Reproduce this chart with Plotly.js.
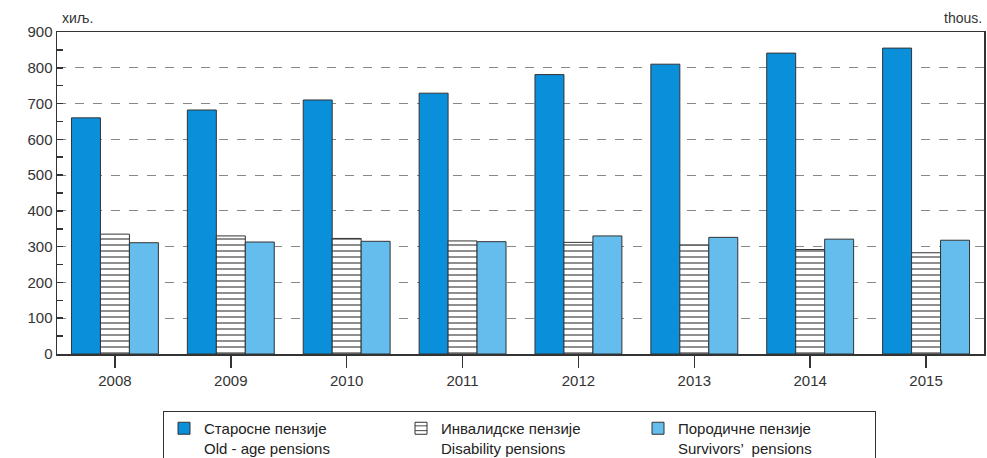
<!DOCTYPE html>
<html>
<head>
<meta charset="utf-8">
<script src="https://cdn.plot.ly/plotly-3.0.1.min.js"></script>
<style>html,body{margin:0;padding:0;background:#fff;}#chart{width:987px;height:458px;}</style>
</head>
<body>
<div id="chart"></div>
<script>
const years = ['2008','2009','2010','2011','2012','2013','2014','2015'];
const oldAge = [660, 682, 710, 729, 781, 810, 841, 855];
const disability = [335, 330, 323, 316, 312, 305, 292, 283];
const survivors = [311, 313, 315, 314, 330, 326, 321, 318];
const names = ['Старосне пензије<br>Old - age pensions', 'Инвалидске пензије<br>Disability pensions', 'Породичне пензије<br>Survivors\u2019  pensions'];
const yTicks = [0, 100, 200, 300, 400, 500, 600, 700, 800, 900];

const lineStyle = {color: '#333', width: 1};
const traces = [
  {type: 'bar', x: years, y: oldAge, name: names[0], marker: {color: '#0a90db', line: lineStyle}},
  {type: 'bar', x: years, y: disability, name: names[1], marker: {color: '#ffffff', line: lineStyle, pattern: {shape: '-', fgcolor: '#444', bgcolor: '#ffffff', size: 6, solidity: 0.2}}},
  {type: 'bar', x: years, y: survivors, name: names[2], marker: {color: '#64bdec', line: lineStyle}}
];

const layout = {
  width: 987, height: 458,
  margin: {l: 57, r: 3, t: 32, b: 104, autoexpand: false},
  paper_bgcolor: '#fff', plot_bgcolor: '#fff',
  font: {family: 'Liberation Sans, Arial, sans-serif', size: 15, color: '#333'},
  barmode: 'group', bargap: 0.25, bargroupgap: 0,
  showlegend: true,
  xaxis: {
    type: 'category', showline: true, mirror: true, linecolor: '#333', linewidth: 1.5,
    ticks: 'outside', ticklen: 12, tickcolor: '#333', tickwidth: 1.5,
    showgrid: false, tickfont: {size: 15}
  },
  yaxis: {
    range: [0, 900], tickvals: yTicks, showline: true, mirror: true, linecolor: '#333', linewidth: 1.5,
    ticks: 'inside', ticklen: 6, tickcolor: '#333', tickwidth: 1.5,
    showgrid: true, gridcolor: '#888', griddash: 'dash', gridwidth: 1,
    zeroline: false, tickfont: {size: 15},
    minor: {dtick: 50, ticks: 'inside', ticklen: 6, tickcolor: '#333', showgrid: false}
  },
  legend: {
    orientation: 'h', x: (163 - 57) / 927, xanchor: 'left', y: -57 / 322, yanchor: 'top',
    bordercolor: '#333', borderwidth: 1, bgcolor: '#fff',
    entrywidth: 192, entrywidthmode: 'pixels', valign: 'top',
    font: {size: 15, color: '#222'}, traceorder: 'normal'
  },
  annotations: [
    {text: 'хиљ.', xref: 'paper', yref: 'paper', x: 0, y: 1, xanchor: 'left', yanchor: 'bottom', yshift: 4, xshift: 3, showarrow: false, font: {size: 14, color: '#333'}},
    {text: 'thous.', xref: 'paper', yref: 'paper', x: 1, y: 1, xanchor: 'right', yanchor: 'bottom', yshift: 4, showarrow: false, font: {size: 14, color: '#333'}}
  ]
};

Plotly.newPlot('chart', traces, layout, {displayModeBar: false, staticPlot: true});
</script>
</body>
</html>
